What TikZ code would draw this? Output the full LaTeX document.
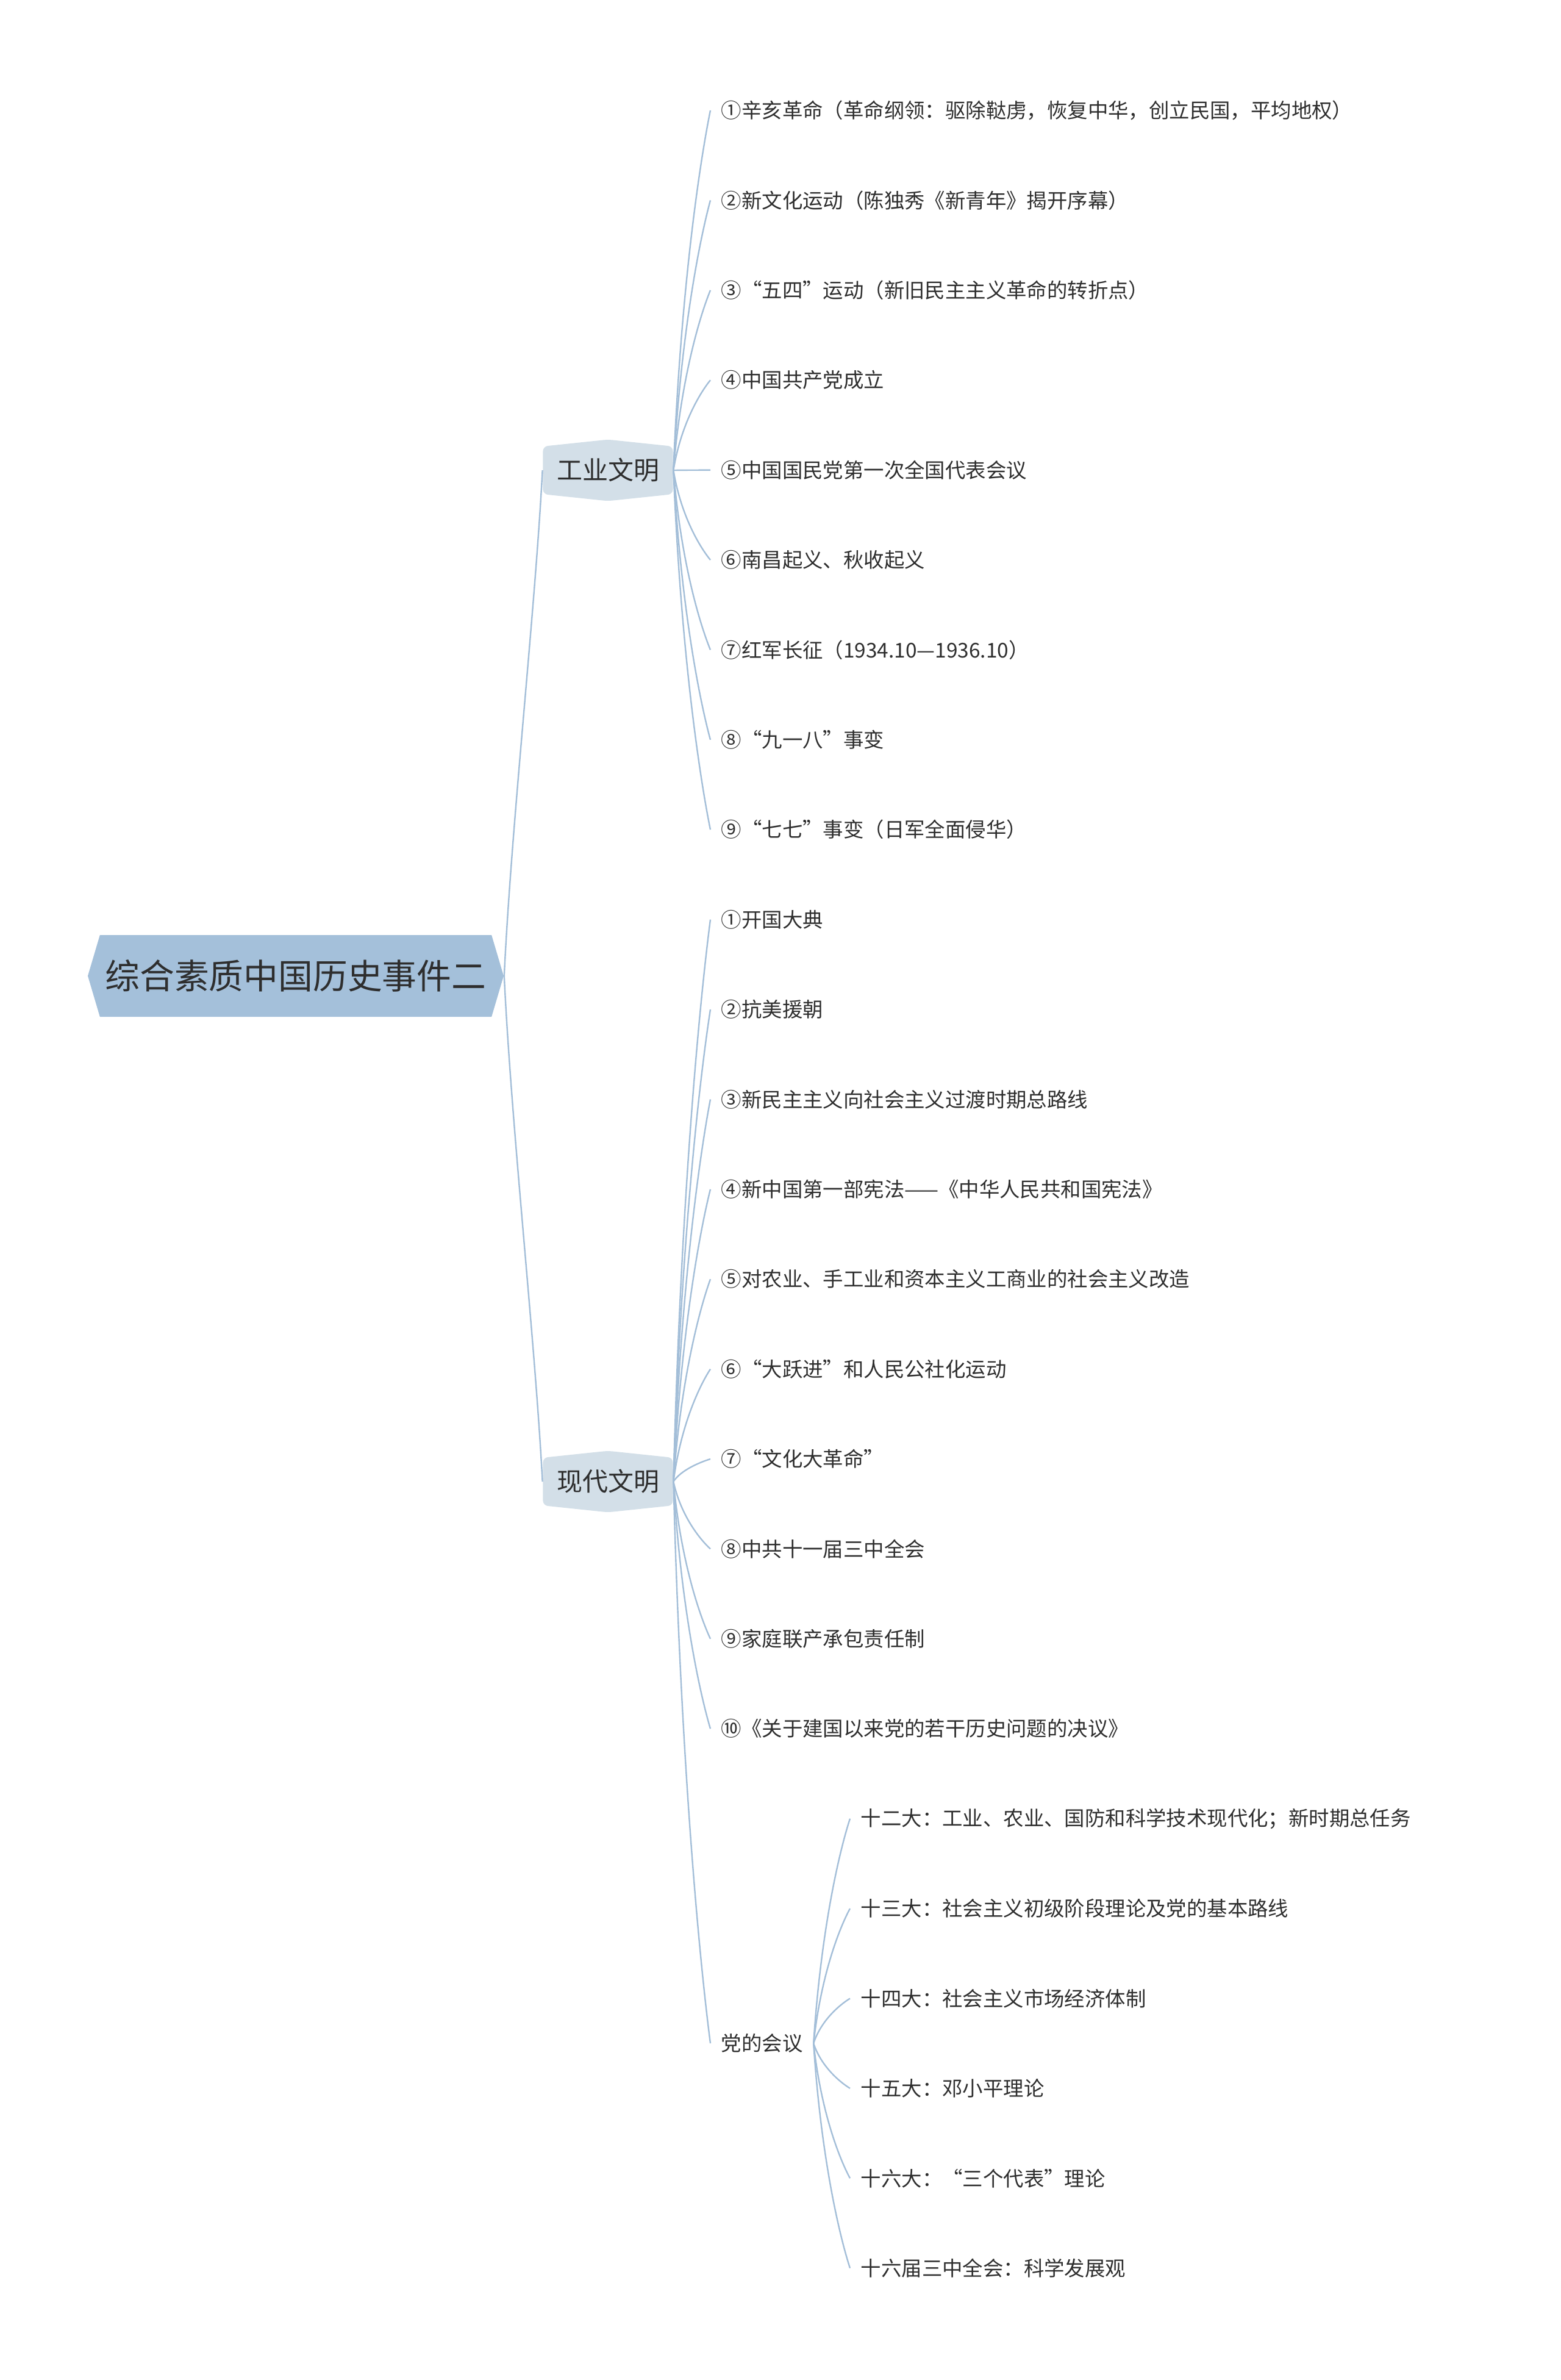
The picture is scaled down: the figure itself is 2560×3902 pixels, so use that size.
\documentclass[tikz,border=0pt]{standalone}
\usepackage{fontspec}
\setmainfont{Noto Sans CJK SC}
\usetikzlibrary{shapes.symbols,calc}

\definecolor{themeblue}{HTML}{A4C0DA}
\definecolor{topicgrey}{HTML}{D3DFE8}
\definecolor{twigblue}{HTML}{A3BED8}
\definecolor{inkgrey}{HTML}{2E2E2E}

\tikzset{
  theme/.style={signal, signal to=west and east, signal pointer angle=147,
    fill=themeblue, text=inkgrey, inner sep=0pt,
    minimum width=170.5pt, minimum height=33.5pt,
    font=\fontsize{14.2pt}{16pt}\selectfont},
  topic/.style={signal, signal to=north and south, signal pointer angle=168,
    fill=topicgrey, text=inkgrey, rounded corners=2pt, inner sep=0pt,
    minimum width=53.3pt, minimum height=24pt,
    font=\fontsize{10.5pt}{12pt}\selectfont},
  item/.style={anchor=west, text=inkgrey, inner xsep=4.25pt, inner ysep=2pt,
    font=\fontsize{8.35pt}{10pt}\selectfont},
  limb/.style={draw=twigblue, line width=0.6pt},
  twig/.style={draw=twigblue, line width=0.6pt,
    to path={let \p1=(\tikztostart), \p2=(\tikztotarget) in
      .. controls (\x1+3pt,{0.5*\y1+0.5*\y2}) and (\x2-4.5pt,{0.85*\y2+0.15*\y1}) .. (\tikztotarget)}}
}

\begin{document}
\begin{tikzpicture}[x=0.25pt, y=-0.25pt]
  \useasboundingbox (0,0) rectangle (2560,3902);

  % centre and the two main topics
  \node[theme] (hist) at (485,1600) {综合素质中国历史事件二};
  \node[topic] (gy) at (997,771) {工业文明};
  \node[topic] (xd) at (997,2429) {现代文明};

  \draw[limb] (hist.east) .. controls +(12,-250) and +(-12,230) .. (gy.west);
  \draw[limb] (hist.east) .. controls +(12,250) and +(-12,-230) .. (xd.west);

  % 工业文明
  \node[item] (g1) at (1165,181) {①辛亥革命（革命纲领：驱除鞑虏，恢复中华，创立民国，平均地权）};
  \node[item] (g2) at (1165,328.4) {②新文化运动（陈独秀《新青年》揭开序幕）};
  \node[item] (g3) at (1165,475.8) {③“五四”运动（新旧民主主义革命的转折点）};
  \node[item] (g4) at (1165,623.2) {④中国共产党成立};
  \node[item] (g5) at (1165,770.6) {⑤中国国民党第一次全国代表会议};
  \node[item] (g6) at (1165,918) {⑥南昌起义、秋收起义};
  \node[item] (g7) at (1165,1065.4) {⑦红军长征（1934.10—1936.10）};
  \node[item] (g8) at (1165,1212.8) {⑧“九一八”事变};
  \node[item] (g9) at (1165,1360.2) {⑨“七七”事变（日军全面侵华）};

  \draw (gy.east) edge[twig] (g1.west) edge[twig] (g2.west) edge[twig] (g3.west)
    edge[twig] (g4.west) edge[twig] (g5.west) edge[twig] (g6.west)
    edge[twig] (g7.west) edge[twig] (g8.west) edge[twig] (g9.west);

  % 现代文明
  \node[item] (x1) at (1165,1507.6) {①开国大典};
  \node[item] (x2) at (1165,1655) {②抗美援朝};
  \node[item] (x3) at (1165,1802.4) {③新民主主义向社会主义过渡时期总路线};
  \node[item] (x4) at (1165,1949.8) {④新中国第一部宪法——《中华人民共和国宪法》};
  \node[item] (x5) at (1165,2097.2) {⑤对农业、手工业和资本主义工商业的社会主义改造};
  \node[item] (x6) at (1165,2244.6) {⑥“大跃进”和人民公社化运动};
  \node[item] (x7) at (1165,2392) {⑦“文化大革命”};
  \node[item] (x8) at (1165,2539.4) {⑧中共十一届三中全会};
  \node[item] (x9) at (1165,2686.8) {⑨家庭联产承包责任制};
  \node[item] (x10) at (1165,2834.2) {⑩《关于建国以来党的若干历史问题的决议》};
  \node[item] (dh) at (1165,3350) {党的会议};

  \draw (xd.east) edge[twig] (x1.west) edge[twig] (x2.west) edge[twig] (x3.west)
    edge[twig] (x4.west) edge[twig] (x5.west) edge[twig] (x6.west)
    edge[twig] (x7.west) edge[twig] (x8.west) edge[twig] (x9.west)
    edge[twig] (x10.west) edge[twig] (dh.west);

  % 党的会议
  \node[item] (h1) at (1394,2981.6) {十二大：工业、农业、国防和科学技术现代化；新时期总任务};
  \node[item] (h2) at (1394,3129) {十三大：社会主义初级阶段理论及党的基本路线};
  \node[item] (h3) at (1394,3276.4) {十四大：社会主义市场经济体制};
  \node[item] (h4) at (1394,3423.8) {十五大：邓小平理论};
  \node[item] (h5) at (1394,3571.2) {十六大：“三个代表”理论};
  \node[item] (h6) at (1394,3718.6) {十六届三中全会：科学发展观};

  \draw (dh.east) edge[twig] (h1.west) edge[twig] (h2.west) edge[twig] (h3.west)
    edge[twig] (h4.west) edge[twig] (h5.west) edge[twig] (h6.west);
\end{tikzpicture}
\end{document}
